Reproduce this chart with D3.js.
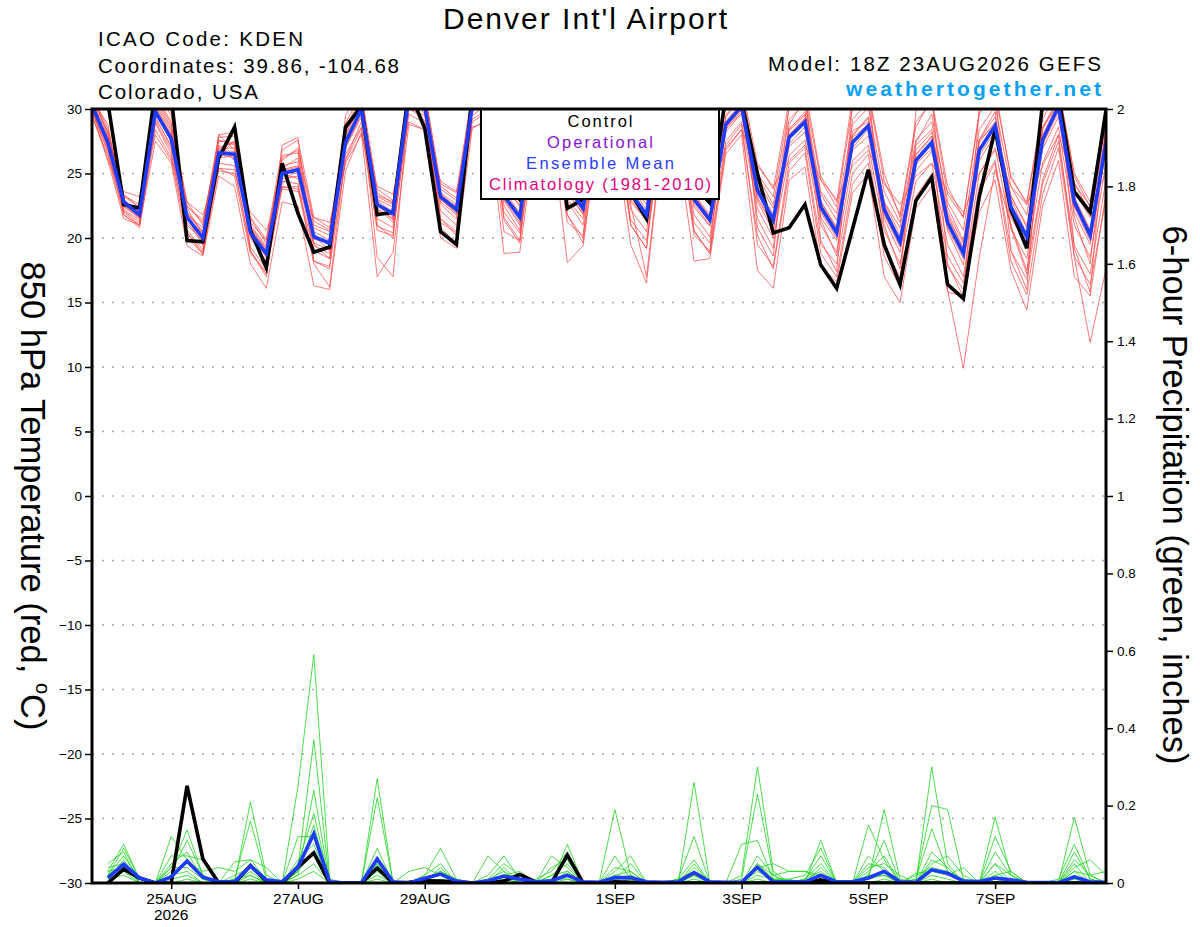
<!DOCTYPE html>
<html>
<head>
<meta charset="utf-8">
<script src="https://cdn.jsdelivr.net/npm/d3@7"></script>
<style>
  body { margin: 0; background: #fff; }
  svg { font-family: "Liberation Sans", Arial, Helvetica, sans-serif; }
</style>
</head>
<body>
<svg id="chart" width="1200" height="927"></svg>
<script>
// 850 hPa temperature (C), every 6 h from 18Z 23AUG2026
const tempMean = [
  30.3, 27.4, 22.8, 21.8, 29.8, 27.7, 21.6, 20.0,
  26.6, 26.5, 20.4, 18.8, 25.0, 25.3, 20.1, 19.6,
  27.4, 30.0, 22.6, 21.9, 31.0, 30.2, 23.2, 22.2,
  30.2, 31.0, 23.3, 21.6, 30.5, 30.8, 24.0, 22.3,
  30.5, 30.0, 23.5, 21.8, 30.0, 29.5, 23.0, 21.4,
  28.8, 30.2, 23.7, 21.4, 27.8, 29.0, 22.4, 20.4,
  27.4, 28.7, 22.2, 19.7, 26.0, 27.4, 21.2, 18.8,
  26.8, 28.7, 22.4, 20.1, 27.6, 30.2, 22.8, 20.2,
  27.4
];
const tempControl = [
  32.0, 30.5, 22.6, 22.3, 31.5, 31.0, 19.8, 19.7,
  26.2, 28.6, 20.6, 17.7, 25.8, 21.9, 18.9, 19.3,
  28.6, 30.2, 21.8, 22.0, 31.5, 28.5, 20.5, 19.5,
  31.0, 31.0, 24.5, 23.0, 31.0, 31.0, 22.3, 23.0,
  31.0, 31.0, 23.5, 21.5, 30.5, 30.0, 24.0, 22.7,
  31.0, 30.5, 25.0, 20.4, 20.8, 22.6, 17.9, 16.1,
  20.7, 25.3, 19.5, 16.4, 22.9, 24.7, 16.4, 15.3,
  23.2, 28.4, 22.2, 19.2, 30.5, 31.0, 23.6, 22.0,
  29.9
];
const tempMembers = [
  [31.0, 28.5, 23.2, 22.4, 31.2, 29.0, 22.8, 21.0,
   27.8, 27.9, 21.5, 19.6, 26.2, 26.8, 21.0, 20.5,
   28.9, 31.2, 23.8, 22.9, 32.0, 31.5, 24.0, 23.1,
   31.4, 32.0, 24.5, 22.4, 31.6, 31.8, 25.0, 23.2,
   31.5, 31.2, 24.6, 22.9, 31.0, 30.8, 24.3, 22.6,
   30.1, 31.4, 24.8, 22.6, 29.2, 30.4, 23.6, 21.9,
   28.8, 30.1, 23.6, 21.2, 27.6, 29.0, 22.8, 20.6,
   28.4, 30.2, 24.0, 21.8, 29.2, 31.5, 24.3, 21.9,
   28.9],
  [30.0, 26.6, 22.1, 21.2, 28.9, 26.5, 20.6, 19.1,
   25.4, 25.3, 19.3, 17.6, 23.9, 24.0, 19.0, 18.4,
   26.1, 29.0, 21.5, 20.8, 30.1, 29.1, 22.1, 21.0,
   29.2, 30.0, 22.0, 20.4, 29.4, 29.6, 22.8, 21.0,
   29.4, 28.8, 22.2, 20.5, 28.8, 28.2, 21.8, 20.1,
   27.5, 29.0, 22.3, 20.0, 26.4, 27.6, 21.0, 18.9,
   26.0, 27.2, 20.6, 18.0, 24.4, 25.8, 19.5, 17.0,
   25.0, 27.0, 20.7, 18.4, 25.8, 28.6, 21.0, 18.5,
   25.8],
  [30.6, 27.9, 22.6, 21.6, 30.4, 28.2, 21.2, 19.7,
   26.9, 27.0, 20.0, 18.2, 25.6, 25.9, 19.6, 19.1,
   27.8, 30.5, 22.2, 21.5, 31.4, 30.8, 23.5, 22.6,
   30.8, 31.4, 23.7, 21.9, 30.9, 31.2, 24.2, 22.8,
   31.0, 30.6, 23.9, 22.2, 30.5, 30.0, 23.2, 21.7,
   29.4, 30.8, 24.0, 21.8, 28.3, 29.5, 22.9, 20.7,
   27.9, 29.3, 22.5, 19.9, 26.5, 27.9, 16.0, 9.9,
   18.5, 25.3, 21.0, 17.5, 24.5, 28.0, 18.5, 11.9,
   17.6],
  [30.8, 27.0, 23.0, 22.0, 30.8, 28.6, 22.0, 20.5,
   27.2, 26.0, 21.0, 19.4, 24.6, 24.8, 20.8, 20.2,
   27.0, 29.6, 23.0, 22.4, 31.6, 30.5, 22.6, 21.5,
   30.0, 30.6, 23.0, 21.2, 30.2, 30.4, 23.5, 21.9,
   30.2, 29.7, 23.0, 21.3, 29.6, 29.2, 22.6, 21.0,
   28.4, 29.9, 23.2, 21.0, 27.3, 28.6, 22.0, 20.0,
   27.0, 28.4, 21.8, 19.3, 25.7, 27.0, 20.8, 18.4,
   26.4, 28.3, 22.0, 19.7, 27.2, 29.8, 22.4, 19.8,
   27.0],
  [29.6, 26.0, 21.5, 21.0, 27.5, 25.8, 19.4, 18.6,
   24.8, 24.0, 18.0, 16.1, 22.8, 22.5, 16.3, 16.0,
   25.2, 28.2, 17.0, 18.9, 28.8, 28.4, 20.0, 19.2,
   28.5, 29.2, 18.8, 18.9, 28.0, 28.6, 18.1, 19.4,
   28.6, 28.0, 19.5, 16.5, 27.5, 27.0, 18.2, 18.4,
   26.5, 28.0, 17.5, 16.1, 24.5, 25.5, 17.8, 16.6,
   23.5, 25.0, 17.0, 15.0, 22.3, 24.0, 15.8, 15.5,
   22.0, 24.5, 17.5, 14.4, 22.5, 26.0, 17.0, 15.5,
   23.5],
  [31.2, 28.0, 23.4, 22.3, 31.5, 29.5, 22.3, 20.2,
   26.3, 27.6, 20.8, 19.0, 25.4, 26.2, 20.5, 19.8,
   28.2, 30.8, 22.9, 22.0, 30.5, 29.8, 23.0, 22.5,
   31.0, 30.8, 23.3, 22.0, 31.2, 30.2, 24.5, 22.6,
   30.8, 30.4, 23.2, 22.0, 30.6, 29.8, 23.5, 21.3,
   29.0, 30.6, 23.8, 21.5, 28.5, 29.6, 22.6, 20.6,
   28.3, 29.0, 22.6, 19.6, 26.8, 28.2, 21.6, 19.2,
   27.6, 29.4, 23.0, 20.3, 28.4, 30.8, 23.0, 20.6,
   28.2],
  [30.2, 27.3, 22.5, 21.5, 29.4, 27.0, 21.8, 20.8,
   28.0, 26.8, 20.2, 18.6, 24.2, 25.5, 19.9, 19.6,
   27.6, 29.8, 22.8, 21.6, 31.2, 30.6, 23.4, 22.4,
   30.4, 31.2, 23.8, 22.6, 30.8, 31.0, 24.2, 22.5,
   31.2, 30.2, 24.1, 22.6, 30.2, 29.8, 23.4, 21.8,
   28.6, 30.0, 24.4, 22.3, 28.0, 29.3, 22.8, 20.8,
   27.8, 28.8, 22.8, 20.2, 26.4, 27.8, 21.8, 19.2,
   27.4, 29.0, 23.3, 20.8, 28.0, 30.5, 23.2, 20.6,
   27.8],
  [30.4, 27.6, 22.9, 22.0, 30.0, 27.9, 21.6, 19.4,
   26.8, 26.7, 20.6, 18.9, 25.3, 25.6, 20.3, 19.4,
   27.2, 30.2, 22.6, 21.4, 30.8, 30.0, 23.2, 22.1,
   30.3, 31.0, 23.5, 21.4, 30.4, 30.9, 23.8, 22.1,
   30.4, 29.9, 23.6, 21.9, 29.8, 29.4, 22.9, 21.2,
   28.8, 30.2, 23.5, 21.2, 27.8, 28.9, 22.2, 20.2,
   27.6, 28.6, 22.0, 19.5, 26.1, 27.4, 21.3, 18.7,
   26.9, 28.6, 22.3, 20.0, 27.6, 30.2, 22.6, 20.3,
   27.5],
  [30.0, 27.0, 22.4, 21.6, 29.2, 27.2, 21.0, 19.8,
   26.5, 26.2, 20.3, 18.5, 25.0, 24.6, 19.4, 18.8,
   27.0, 29.4, 22.0, 21.8, 30.9, 29.6, 22.8, 21.8,
   29.8, 30.7, 22.9, 21.0, 30.1, 30.6, 23.6, 21.8,
   30.0, 29.6, 22.8, 21.4, 29.4, 29.0, 22.4, 20.9,
   28.2, 29.7, 22.8, 20.6, 27.1, 28.2, 21.6, 19.8,
   26.8, 27.9, 21.5, 18.9, 25.2, 26.7, 20.6, 17.9,
   26.0, 28.0, 21.6, 19.4, 26.9, 29.4, 22.0, 19.5,
   26.9],
  [30.9, 28.2, 23.3, 22.6, 31.0, 28.8, 22.5, 21.2,
   27.5, 27.4, 21.2, 19.8, 26.0, 27.0, 21.3, 20.6,
   28.6, 30.9, 23.5, 22.7, 31.8, 31.2, 24.2, 23.5,
   31.2, 31.8, 24.4, 22.8, 31.4, 31.5, 25.4, 23.4,
   31.4, 31.0, 24.8, 23.2, 31.2, 30.6, 24.6, 22.8,
   30.3, 31.6, 25.0, 23.2, 30.0, 31.0, 24.5, 22.4,
   30.2, 31.2, 24.4, 21.8, 29.0, 30.5, 23.4, 21.6,
   29.8, 31.2, 24.8, 22.6, 30.0, 31.8, 24.8, 22.4,
   29.6],
  [29.8, 26.8, 22.0, 21.0, 29.0, 26.8, 20.4, 18.7,
   25.8, 25.6, 19.0, 17.2, 24.4, 24.2, 18.0, 16.2,
   26.5, 28.6, 20.6, 20.2, 30.0, 29.5, 21.5, 20.5,
   29.5, 30.4, 20.5, 19.8, 29.2, 30.0, 21.2, 20.2,
   29.7, 29.4, 21.0, 19.2, 29.0, 28.6, 20.2, 19.0,
   27.2, 28.8, 19.5, 17.8, 25.8, 27.0, 19.5, 18.0,
   25.0, 26.5, 19.3, 17.0, 23.2, 25.0, 18.6, 16.5,
   24.0, 26.0, 19.0, 16.8, 24.2, 27.5, 19.4, 17.2,
   24.5],
  [30.5, 27.5, 22.7, 21.9, 30.2, 27.4, 21.5, 20.0,
   26.2, 26.4, 20.1, 18.8, 25.1, 25.0, 20.0, 19.7,
   27.5, 30.1, 18.5, 17.0, 30.4, 30.1, 23.0, 22.0,
   30.1, 30.9, 23.1, 21.6, 30.6, 30.8, 23.9, 22.4,
   30.6, 30.0, 23.4, 21.8, 30.0, 29.6, 23.0, 21.5,
   28.9, 30.3, 23.8, 21.6, 28.0, 29.2, 22.4, 20.4,
   27.4, 28.9, 22.2, 19.8, 26.2, 27.5, 21.2, 18.9,
   27.0, 28.8, 22.6, 20.2, 27.8, 30.3, 22.7, 20.4,
   27.3],
  [30.8, 28.8, 21.8, 21.0, 31.5, 29.8, 20.4, 18.9,
   28.0, 28.2, 19.0, 17.0, 27.2, 27.8, 18.2, 17.6,
   29.5, 31.6, 21.0, 20.0, 32.5, 31.8, 21.5, 20.2,
   31.8, 32.4, 21.4, 19.6, 32.0, 32.2, 21.8, 20.0,
   32.0, 31.5, 21.0, 19.2, 31.5, 31.2, 20.5, 18.8,
   30.8, 32.0, 20.8, 18.6, 30.5, 31.6, 19.8, 17.4,
   30.4, 31.8, 19.2, 16.5, 29.8, 31.2, 18.0, 15.4,
   30.0, 31.5, 19.0, 16.0, 30.2, 32.0, 19.2, 15.8,
   29.0],
  [30.0, 26.0, 23.6, 23.2, 28.0, 26.0, 22.8, 21.8,
   25.2, 25.0, 22.0, 20.6, 23.8, 23.6, 21.6, 21.2,
   25.8, 28.0, 24.0, 23.4, 29.0, 28.4, 24.4, 23.6,
   28.6, 29.0, 24.6, 23.4, 28.8, 29.0, 25.2, 24.0,
   28.8, 28.2, 25.0, 23.6, 28.4, 27.8, 24.6, 23.4,
   27.0, 28.4, 25.6, 24.0, 26.0, 27.2, 24.5, 23.0,
   25.6, 26.8, 24.2, 22.6, 24.8, 25.8, 23.6, 22.0,
   25.0, 26.8, 24.0, 22.6, 25.6, 28.0, 24.2, 22.5,
   25.0],
  [30.2, 27.8, 22.2, 21.4, 30.6, 28.4, 21.9, 20.4,
   27.6, 27.2, 20.9, 19.2, 26.4, 26.6, 19.5, 18.4,
   28.4, 30.4, 23.2, 22.6, 31.2, 30.4, 20.8, 19.6,
   30.6, 31.4, 22.5, 20.6, 31.0, 31.4, 23.0, 21.5,
   31.2, 30.8, 22.6, 17.0, 27.8, 28.5, 21.2, 19.6,
   29.5, 31.0, 21.5, 19.2, 28.8, 30.8, 21.4, 18.6,
   29.2, 30.6, 21.0, 17.6, 27.4, 29.6, 22.4, 19.8,
   27.6, 29.8, 20.8, 17.2, 28.6, 30.8, 21.6, 18.0,
   28.6],
  [30.7, 28.2, 23.0, 21.8, 30.2, 28.0, 22.4, 21.4,
   27.0, 27.4, 21.6, 19.9, 26.8, 27.6, 21.6, 20.8,
   28.0, 30.6, 23.3, 22.8, 31.4, 30.6, 23.8, 22.9,
   30.7, 31.6, 24.8, 23.2, 31.4, 31.2, 25.6, 23.9,
   31.6, 31.2, 25.0, 23.6, 31.0, 30.2, 25.2, 23.4,
   30.5, 31.8, 25.8, 23.8, 30.6, 31.6, 24.8, 22.8,
   30.8, 31.4, 25.0, 21.6, 28.6, 30.8, 24.0, 21.6,
   29.6, 31.6, 24.6, 22.8, 29.8, 31.6, 25.0, 22.8,
   30.0],
  [29.4, 26.4, 21.8, 20.8, 28.4, 26.2, 20.0, 18.8,
   25.4, 24.8, 18.8, 17.4, 24.0, 23.8, 18.2, 17.8,
   26.0, 28.5, 20.9, 20.4, 29.6, 28.9, 21.2, 20.4,
   29.0, 29.8, 21.6, 19.8, 29.0, 29.4, 21.8, 19.6,
   29.0, 28.4, 21.4, 19.8, 28.2, 27.8, 20.6, 18.8,
   26.8, 28.4, 20.2, 17.6, 25.2, 26.6, 18.8, 17.0,
   24.2, 25.8, 18.6, 16.2, 22.8, 24.6, 17.8, 16.0,
   23.6, 25.8, 18.2, 15.6, 23.4, 27.0, 18.6, 16.4,
   23.0],
  [30.3, 27.2, 22.6, 21.7, 29.6, 27.6, 21.4, 20.4,
   26.4, 26.6, 20.6, 19.2, 25.2, 25.5, 20.2, 19.0,
   27.6, 29.9, 22.4, 21.2, 30.6, 30.2, 23.0, 21.9,
   30.2, 30.8, 23.2, 21.5, 30.4, 30.6, 24.0, 22.0,
   30.2, 29.8, 23.3, 21.6, 30.2, 29.6, 22.8, 21.2,
   28.6, 29.6, 23.0, 21.0, 28.4, 29.8, 23.4, 21.4,
   28.0, 29.4, 22.8, 20.8, 27.2, 28.4, 22.0, 19.6,
   27.6, 28.8, 23.2, 21.0, 28.6, 30.4, 23.6, 21.6,
   28.2]
];

// 6-hour precipitation (inches), every 6 h from 00Z 24AUG2026
const precipMean = [
  0.013, 0.049, 0.013, 0, 0.016, 0.057, 0.015, 0.003,
  0.003, 0.044, 0.008, 0.003, 0.041, 0.127, 0.003, 0,
  0, 0.062, 0.003, 0, 0.012, 0.023, 0.005, 0,
  0.006, 0.018, 0.010, 0.003, 0.006, 0.020, 0.003, 0.002,
  0.014, 0.014, 0.003, 0.002, 0.003, 0.027, 0.003, 0.002,
  0.002, 0.041, 0.003, 0.003, 0.003, 0.020, 0.003, 0.003,
  0.013, 0.030, 0.003, 0.002, 0.034, 0.025, 0.005, 0.004,
  0.013, 0.008, 0.002, 0.001, 0.001, 0.016, 0.003, 0.002
];
const precipControl = [
  0, 0.036, 0.013, 0, 0, 0.251, 0.062, 0,
  0, 0.045, 0.005, 0, 0.041, 0.078, 0, 0,
  0, 0.039, 0, 0.002, 0.006, 0.005, 0.003, 0,
  0, 0.005, 0.022, 0.003, 0, 0.072, 0, 0,
  0.003, 0.002, 0, 0, 0, 0, 0, 0,
  0, 0, 0, 0, 0, 0.008, 0, 0,
  0, 0, 0, 0, 0, 0, 0, 0,
  0, 0, 0, 0, 0, 0, 0, 0
];
const precipMembers = [
  [0.03, 0.10, 0.01, 0, 0.12, 0.06, 0.01, 0,
   0, 0.21, 0.02, 0, 0.25, 0.59, 0.01, 0,
   0, 0.27, 0, 0, 0.02, 0.05, 0, 0,
   0, 0.01, 0, 0, 0, 0.10, 0, 0,
   0.19, 0.02, 0, 0, 0, 0.26, 0, 0,
   0.02, 0.30, 0.03, 0, 0, 0.11, 0, 0,
   0.01, 0.19, 0.01, 0, 0.30, 0.05, 0, 0,
   0.17, 0.02, 0, 0, 0, 0.17, 0.02, 0],
  [0.02, 0.09, 0.01, 0, 0.04, 0.137, 0.02, 0,
   0.01, 0.16, 0.01, 0, 0.04, 0.37, 0, 0,
   0, 0.22, 0, 0, 0.01, 0.03, 0, 0,
   0.02, 0.07, 0.01, 0, 0.07, 0.04, 0, 0,
   0.02, 0.01, 0, 0, 0.01, 0.03, 0, 0,
   0.01, 0.23, 0.02, 0, 0.01, 0.03, 0, 0,
   0.15, 0.06, 0, 0.01, 0.20, 0.19, 0.01, 0,
   0.02, 0, 0, 0, 0.01, 0.10, 0.01, 0],
  [0.05, 0.08, 0, 0, 0.03, 0.11, 0.02, 0,
   0.055, 0.06, 0.01, 0, 0.02, 0.24, 0, 0,
   0, 0.05, 0, 0, 0.02, 0.09, 0.01, 0,
   0.07, 0.03, 0, 0, 0.01, 0.02, 0, 0,
   0.03, 0.07, 0, 0, 0.01, 0.12, 0, 0,
   0.10, 0.11, 0.01, 0.01, 0.02, 0.09, 0, 0,
   0.02, 0.11, 0, 0.01, 0.14, 0.03, 0.01, 0,
   0.12, 0.03, 0, 0, 0, 0.03, 0, 0],
  [0.02, 0.07, 0.01, 0, 0.07, 0.07, 0.06, 0,
   0, 0.03, 0, 0, 0.05, 0.18, 0, 0,
   0, 0.09, 0, 0, 0.01, 0.02, 0, 0,
   0, 0.02, 0, 0.01, 0.03, 0.08, 0, 0,
   0.07, 0.01, 0, 0, 0, 0.04, 0, 0,
   0, 0.05, 0.02, 0.03, 0.03, 0.02, 0, 0,
   0.03, 0.07, 0, 0, 0.05, 0.07, 0.02, 0,
   0.03, 0, 0, 0, 0, 0.08, 0.01, 0],
  [0.01, 0.06, 0, 0, 0.02, 0.05, 0.03, 0.04,
   0.03, 0.06, 0.04, 0, 0.03, 0.15, 0, 0,
   0, 0.03, 0, 0.03, 0.04, 0.02, 0, 0,
   0.01, 0.05, 0.02, 0, 0.02, 0.05, 0, 0,
   0.01, 0.01, 0, 0, 0.01, 0.06, 0, 0,
   0, 0.02, 0.01, 0, 0.01, 0.05, 0, 0,
   0.07, 0.03, 0, 0.025, 0.03, 0.02, 0.04, 0,
   0.05, 0.02, 0, 0, 0, 0.04, 0.06, 0.02],
  [0.04, 0.05, 0, 0, 0.04, 0.04, 0.01, 0,
   0, 0.04, 0, 0, 0.12, 0.12, 0, 0,
   0, 0.05, 0, 0, 0, 0.04, 0, 0,
   0, 0.02, 0.03, 0, 0, 0.03, 0, 0,
   0.01, 0.05, 0, 0, 0, 0.02, 0, 0,
   0, 0.04, 0.05, 0.03, 0.03, 0.01, 0, 0,
   0.02, 0.02, 0, 0.02, 0.04, 0.03, 0, 0,
   0.02, 0.03, 0, 0, 0, 0.03, 0.02, 0.03],
  [0.02, 0.03, 0, 0, 0.02, 0.03, 0, 0,
   0.01, 0.02, 0, 0, 0.03, 0.08, 0, 0,
   0, 0.04, 0, 0, 0, 0.03, 0.01, 0,
   0, 0.04, 0, 0, 0.02, 0.03, 0, 0,
   0.02, 0.03, 0, 0, 0, 0.02, 0, 0,
   0, 0.05, 0.01, 0.01, 0, 0.02, 0, 0,
   0.05, 0.04, 0, 0, 0.06, 0.04, 0, 0,
   0.05, 0, 0, 0, 0, 0.05, 0, 0],
  [0.03, 0.04, 0.01, 0, 0.01, 0.02, 0, 0,
   0, 0.01, 0, 0, 0.02, 0.05, 0, 0,
   0, 0.02, 0, 0, 0.01, 0.02, 0, 0,
   0, 0.01, 0, 0, 0.01, 0.01, 0, 0,
   0.01, 0.02, 0, 0, 0, 0.02, 0, 0,
   0, 0.03, 0.01, 0, 0, 0.04, 0, 0,
   0.01, 0.02, 0, 0, 0.02, 0.01, 0, 0,
   0.01, 0.01, 0, 0, 0, 0.02, 0, 0],
  [0.01, 0.02, 0, 0, 0, 0.01, 0, 0,
   0, 0.02, 0, 0, 0.01, 0.03, 0, 0,
   0, 0.01, 0, 0, 0, 0.01, 0, 0,
   0, 0, 0, 0, 0, 0.01, 0, 0,
   0, 0.01, 0, 0, 0, 0.01, 0, 0,
   0, 0.01, 0, 0, 0, 0.01, 0, 0,
   0, 0.01, 0, 0, 0.01, 0, 0, 0,
   0.01, 0, 0, 0, 0, 0.01, 0, 0],
  [0.02, 0.05, 0, 0, 0.05, 0.08, 0.01, 0,
   0.02, 0.04, 0, 0, 0.06, 0.10, 0, 0,
   0, 0.04, 0, 0, 0.01, 0.03, 0, 0,
   0.01, 0.03, 0, 0, 0.04, 0.06, 0, 0,
   0.04, 0.03, 0, 0, 0, 0.05, 0, 0,
   0, 0.07, 0.02, 0, 0.01, 0.07, 0, 0,
   0.04, 0.05, 0.02, 0, 0.08, 0.04, 0, 0,
   0.08, 0.02, 0, 0, 0, 0.06, 0.02, 0]
];

const tempTicks = [-30, -25, -20, -15, -10, -5, 0, 5, 10, 15, 20, 25, 30];
const precipTicks = [0, 0.2, 0.4, 0.6, 0.8, 1, 1.2, 1.4, 1.6, 1.8, 2];
const dateTicks = ["2026-08-25", "2026-08-27", "2026-08-29", "2026-09-01", "2026-09-03", "2026-09-05", "2026-09-07"];
const dateLabels = ["25AUG", "27AUG", "29AUG", "1SEP", "3SEP", "5SEP", "7SEP"];
const legendItems = [
  { label: "Control", color: "#000000", len: 65 },
  { label: "Operational", color: "#8a10dc", len: 106 },
  { label: "Ensemble Mean", color: "#2a3cff", len: 148 },
  { label: "Climatology (1981-2010)", color: "#e6007e", len: 222 }
];

const plotLeft = 92, plotRight = 1106, plotTop = 109, plotBottom = 883;
const start = Date.UTC(2026, 7, 23, 18);
const step = 6 * 3600 * 1000;
const font = '"Liberation Sans", Arial, Helvetica, sans-serif';

const svg = d3.select("#chart");

const x = d3.scaleUtc()
  .domain([new Date(start), new Date(start + 64 * step)])
  .range([plotLeft, plotRight]);
const yT = d3.scaleLinear().domain([-30, 30]).range([plotBottom, plotTop]);
const yP = d3.scaleLinear().domain([0, 2]).range([plotBottom, plotTop]);

// temperature starts at 18Z 23AUG, precip one step later
const lineT = d3.line().x((d, i) => x(new Date(start + i * step))).y(d => yT(d));
const lineP = d3.line().x((d, i) => x(new Date(start + (i + 1) * step))).y(d => yP(d));

svg.append("rect").attr("width", 1200).attr("height", 927).attr("fill", "#fff");

svg.append("clipPath").attr("id", "plotClip")
  .append("rect")
  .attr("x", plotLeft).attr("y", plotTop)
  .attr("width", plotRight - plotLeft).attr("height", plotBottom - plotTop);

// dotted grid
svg.append("g")
  .selectAll("line")
  .data(tempTicks.filter(d => d > -30 && d < 30))
  .join("line")
  .attr("x1", plotLeft).attr("x2", plotRight)
  .attr("y1", d => yT(d)).attr("y2", d => yT(d))
  .attr("stroke", "#a6a6a6")
  .attr("stroke-width", 1.6)
  .attr("stroke-dasharray", "2,8");

const plot = svg.append("g").attr("clip-path", "url(#plotClip)");

plot.selectAll(".tempMember")
  .data(tempMembers)
  .join("path")
  .attr("class", "tempMember")
  .attr("d", lineT)
  .attr("fill", "none")
  .attr("stroke", "#ff4545")
  .attr("stroke-opacity", 0.8)
  .attr("stroke-width", 0.9);

plot.selectAll(".precipMember")
  .data(precipMembers)
  .join("path")
  .attr("class", "precipMember")
  .attr("d", lineP)
  .attr("fill", "none")
  .attr("stroke", "#22d622")
  .attr("stroke-opacity", 0.9)
  .attr("stroke-width", 0.9);

[[tempControl, lineT, "#000"], [tempMean, lineT, "#1e3cff"],
 [precipControl, lineP, "#000"], [precipMean, lineP, "#1e3cff"]].forEach(([data, gen, color]) => {
  plot.append("path")
    .datum(data)
    .attr("d", gen)
    .attr("fill", "none")
    .attr("stroke", color)
    .attr("stroke-width", 3.6)
    .attr("stroke-linejoin", "miter");
});

// legend box
const legend = svg.append("g");
legend.append("rect")
  .attr("x", 481).attr("y", plotTop)
  .attr("width", 238).attr("height", 90)
  .attr("fill", "#fff")
  .attr("stroke", "#000")
  .attr("stroke-width", 2);
legend.selectAll("text")
  .data(legendItems)
  .join("text")
  .attr("x", 600)
  .attr("y", (d, i) => 127 + i * 21)
  .attr("text-anchor", "middle")
  .attr("font-size", "16.5px")
  .attr("fill", d => d.color)
  .attr("textLength", d => d.len)
  .attr("lengthAdjust", "spacing")
  .text(d => d.label);

// frame
svg.append("rect")
  .attr("x", plotLeft).attr("y", plotTop)
  .attr("width", plotRight - plotLeft).attr("height", plotBottom - plotTop)
  .attr("fill", "none")
  .attr("stroke", "#000")
  .attr("stroke-width", 3);

// axes
const leftAxis = svg.append("g")
  .attr("transform", `translate(${plotLeft},0)`)
  .call(d3.axisLeft(yT).tickValues(tempTicks).tickSize(7).tickPadding(3))
  .call(g => g.select(".domain").remove());

const rightAxis = svg.append("g")
  .attr("transform", `translate(${plotRight},0)`)
  .call(d3.axisRight(yP).tickValues(precipTicks).tickSize(7).tickPadding(4).tickFormat(d => String(d)))
  .call(g => g.select(".domain").remove());

const bottomAxis = svg.append("g")
  .attr("transform", `translate(0,${plotBottom})`)
  .call(d3.axisBottom(x)
    .tickValues(dateTicks.map(d => new Date(d + "T00:00:00Z")))
    .tickSize(6)
    .tickPadding(4)
    .tickFormat((d, i) => dateLabels[i]))
  .call(g => g.select(".domain").remove());

[leftAxis, rightAxis].forEach(g => {
  g.attr("font-family", font).attr("font-size", "13.5px");
  g.selectAll("line").attr("stroke", "#000").attr("stroke-width", 1.5);
});
bottomAxis.attr("font-family", font).attr("font-size", "15.5px");
bottomAxis.selectAll("line").attr("stroke", "#000").attr("stroke-width", 1.5);

svg.append("text")
  .attr("x", x(new Date(dateTicks[0] + "T00:00:00Z")))
  .attr("y", 920)
  .attr("text-anchor", "middle")
  .attr("font-size", "15.5px")
  .text("2026");

// axis titles
const leftTitle = svg.append("text")
  .attr("transform", `translate(21,496) rotate(90)`)
  .attr("text-anchor", "middle")
  .attr("font-size", "34.5px");
leftTitle.append("tspan").text("850 hPa Temperature (red, ");
leftTitle.append("tspan").attr("font-size", "20px").attr("dy", "-0.75em").text("o");
leftTitle.append("tspan").attr("dy", "0.43em").text("C)");

svg.append("text")
  .attr("transform", `translate(1163,495) rotate(90)`)
  .attr("text-anchor", "middle")
  .attr("font-size", "34.5px")
  .text("6-hour Precipitation (green, inches)");

// header
svg.append("text")
  .attr("x", 585).attr("y", 29)
  .attr("text-anchor", "middle")
  .attr("font-size", "30px")
  .attr("textLength", 284).attr("lengthAdjust", "spacing")
  .text("Denver Int'l Airport");

const infoLines = [
  { text: "ICAO Code: KDEN", x: 98, y: 46, len: 205, anchor: "start" },
  { text: "Coordinates: 39.86, -104.68", x: 98, y: 73, len: 301, anchor: "start" },
  { text: "Colorado, USA", x: 98, y: 99, len: 160, anchor: "start" },
  { text: "Model: 18Z 23AUG2026 GEFS", x: 1101, y: 71, len: 333, anchor: "end" }
];
svg.selectAll(".info")
  .data(infoLines)
  .join("text")
  .attr("class", "info")
  .attr("x", d => d.x).attr("y", d => d.y)
  .attr("text-anchor", d => d.anchor)
  .attr("font-size", "20.5px")
  .attr("textLength", d => d.len).attr("lengthAdjust", "spacing")
  .text(d => d.text);

svg.append("text")
  .attr("x", 1101).attr("y", 96)
  .attr("text-anchor", "end")
  .attr("font-size", "21px")
  .attr("font-weight", "bold")
  .attr("fill", "#0aa0f5")
  .attr("textLength", 255).attr("lengthAdjust", "spacing")
  .text("weathertogether.net");
</script>
</body>
</html>
